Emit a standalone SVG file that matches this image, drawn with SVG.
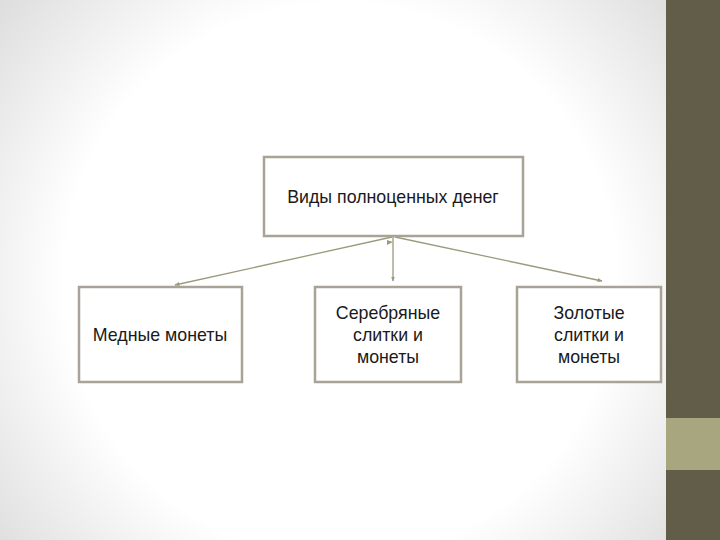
<svg xmlns="http://www.w3.org/2000/svg" width="720" height="540" viewBox="0 0 720 540">
<defs>
<radialGradient id="bg" cx="340" cy="280" r="460" gradientUnits="userSpaceOnUse">
<stop offset="0" stop-color="#ffffff"/>
<stop offset="0.6" stop-color="#ffffff"/>
<stop offset="1" stop-color="#d9d9d9"/>
</radialGradient>
<marker id="ah" viewBox="0 0 10 10" refX="9" refY="5" markerWidth="5" markerHeight="5" orient="auto" markerUnits="userSpaceOnUse">
<path d="M0,1 L10,5 L0,9 z" fill="#9c9a7c"/>
</marker>
<style>
.box{fill:#ffffff;stroke:#a8a396;stroke-width:2.5}
.t{font-family:"Liberation Sans",Arial,sans-serif;font-size:17.8px;fill:#1a1a1a;text-anchor:middle}
.c{stroke:#9c9a7c;stroke-width:1.3;fill:none}
</style>
</defs>
<rect x="0" y="0" width="720" height="540" fill="url(#bg)"/>
<rect x="666" y="0" width="54" height="540" fill="#625d48"/>
<rect x="666" y="418" width="54" height="52" fill="#a8a67e"/>
<g id="connectors">
<line class="c" x1="392" y1="237" x2="175" y2="285" marker-end="url(#ah)"/>
<line class="c" x1="393" y1="237" x2="393" y2="281" marker-end="url(#ah)"/>
<line class="c" x1="395" y1="237" x2="602" y2="281" marker-end="url(#ah)"/>
<path d="M387,240 L393,242 L387,245 z" fill="#9c9a7c"/>
</g>
<g id="root">
<rect class="box" x="264" y="157" width="259" height="79"/>
<text class="t" x="393" y="203">Виды полноценных денег</text>
</g>
<g id="copper">
<rect class="box" x="79" y="287" width="163" height="95"/>
<text class="t" x="160" y="341">Медные монеты</text>
</g>
<g id="silver">
<rect class="box" x="315" y="287" width="146" height="95"/>
<text class="t" x="388" y="319">Серебряные</text>
<text class="t" x="388" y="341">слитки и</text>
<text class="t" x="388" y="363">монеты</text>
</g>
<g id="gold">
<rect class="box" x="517" y="287" width="144" height="95"/>
<text class="t" x="589" y="319">Золотые</text>
<text class="t" x="589" y="341">слитки и</text>
<text class="t" x="589" y="363">монеты</text>
</g>
</svg>
